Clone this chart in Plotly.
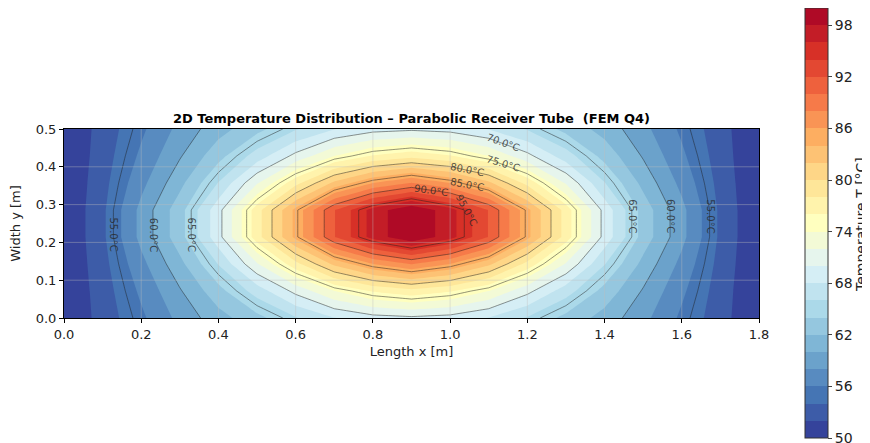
import numpy as np
import plotly.graph_objects as go

# ---------------- data (node temperatures of the Q4 mesh) ----------------
x_nodes = [0.0, 0.1, 0.2, 0.3, 0.4, 0.5, 0.6, 0.7, 0.8, 0.9,
           1.0, 1.1, 1.2, 1.3, 1.4, 1.5, 1.6, 1.7, 1.8]
y_nodes = [0.0, 0.0714, 0.1429, 0.2143, 0.2857, 0.3571, 0.4286, 0.5]

row_edge = [50.0, 52.8, 55.6, 58.6, 61.2, 63.4, 65.8, 67.9, 69.2, 69.6,
            69.2, 67.9, 65.8, 63.4, 61.2, 58.6, 55.6, 52.8, 50.0]
row_outer = [50.0, 53.0, 56.4, 59.8, 63.3, 66.9, 70.6, 74.0, 76.2, 77.3,
             76.2, 74.0, 70.6, 66.9, 63.3, 59.8, 56.4, 53.0, 50.0]
row_inner = [50.0, 53.3, 57.4, 61.4, 66.1, 71.8, 77.3, 82.5, 86.0, 88.1,
             86.0, 82.5, 77.3, 71.8, 66.1, 61.4, 57.4, 53.3, 50.0]
row_center = [50.0, 53.6, 58.6, 63.2, 69.3, 77.1, 84.6, 91.9, 96.8, 99.9,
              96.8, 91.9, 84.6, 77.1, 69.3, 63.2, 58.6, 53.6, 50.0]

T_field = [row_edge, row_outer, row_inner, row_center,
           row_center, row_inner, row_outer, row_edge]

fill_levels = [50.0, 100.0, 2.0]       # start, end, step
line_levels = [55, 60, 65, 70, 75, 80, 85, 90, 95]
cbar_ticks = [50, 56, 62, 68, 74, 80, 86, 92, 98]
x_ticks = [0.0, 0.2, 0.4, 0.6, 0.8, 1.0, 1.2, 1.4, 1.6, 1.8]
y_ticks = [0.0, 0.1, 0.2, 0.3, 0.4, 0.5]

# label placement: (level, side/column, text angle)
side_labels = [(55, "L"), (60, "L"), (65, "L"), (65, "R"), (60, "R"), (55, "R")]
top_labels = [(70, 1.137, 20), (75, 1.137, 17), (80, 1.044, 11),
              (85, 1.044, 11), (90, 0.951, 8), (95, 1.044, 62)]

# ---------------- colours (matplotlib RdYlBu_r) ----------------
rdylbu_r = ['#313695', '#4575b4', '#74add1', '#abd9e9', '#e0f3f8', '#ffffbf',
            '#fee090', '#fdae61', '#f46d43', '#d73027', '#a50026']


def hex2rgb(h):
    h = h.lstrip('#')
    return np.array([int(h[i:i + 2], 16) for i in (0, 2, 4)], dtype=float)


anchors = np.array([hex2rgb(c) for c in rdylbu_r])
apos = np.linspace(0, 1, len(anchors))


def cmap(f):
    return 'rgb(%d,%d,%d)' % tuple(
        int(round(np.interp(f, apos, anchors[:, i]))) for i in range(3))


start, end, step = fill_levels
nb = int(round((end - start) / step))
band_cols = [cmap((k + 0.5) / nb) for k in range(nb)]

# colorscale for the contour fill: plotly maps [0,1] onto [start-step/2, end+step/2]
lo, hi = start - step / 2, end + step / 2
cs_fill = []
for k, c in enumerate(band_cols):
    a = (start + k * step - lo) / (hi - lo) if k > 0 else 0.0
    b = (start + (k + 1) * step - lo) / (hi - lo) if k < nb - 1 else 1.0
    cs_fill.append([a, c])
    cs_fill.append([b, c])

# colorscale for the stand-alone colourbar spanning exactly [start, end]
cs_bar = []
for k, c in enumerate(band_cols):
    cs_bar.append([k / nb, c])
    cs_bar.append([(k + 1) / nb, c])

FONT = "DejaVu Sans"

# page is shown with an 8px body margin -> layout in figure pixels
W, H = 870, 443
L, T, PW, PH = 56, 121, 695, 189

fig = go.Figure()
fig.add_trace(go.Contour(
    x=x_nodes, y=y_nodes, z=T_field,
    colorscale=cs_fill,
    autocontour=False,
    contours=dict(start=start, end=end, size=step, coloring="fill", showlines=False),
    line=dict(width=0, smoothing=0),
    showscale=False,
    hoverinfo="skip",
))

fig.add_trace(go.Contour(
    x=x_nodes, y=y_nodes, z=T_field,
    autocontour=False,
    contours=dict(start=line_levels[0], end=line_levels[-1],
                  size=line_levels[1] - line_levels[0], coloring="none"),
    line=dict(width=0.8, color="rgba(30,30,30,0.6)", smoothing=0),
    showscale=False, hoverinfo="skip",
))

# colourbar carrier
fig.add_trace(go.Scatter(
    x=[None], y=[None], mode="markers",
    marker=dict(color=[start], colorscale=cs_bar, cmin=start, cmax=end, showscale=True,
                colorbar=dict(
                    tickvals=cbar_ticks, ticks="outside", ticklen=4, tickwidth=1,
                    tickfont=dict(family=FONT, size=14, color="#222"),
                    thickness=23, len=430, lenmode="pixels",
                    x=(797 - L) / PW, xanchor="left", xpad=0,
                    y=(T + PH - 215) / PH, yanchor="middle", ypad=0,
                    outlinewidth=1, outlinecolor="#333",
                )),
    hoverinfo="skip", showlegend=False,
))

# ---------------- contour labels ----------------
Z = np.array(T_field)
xa = np.array(x_nodes)
ya = np.array(y_nodes)
center = Z[3]
imax = int(np.argmax(center))

LBL_FONT = dict(family=FONT, size=10, color="rgba(40,40,40,0.8)")
annotations = []
for lev, side in side_labels:
    if side == "L":
        xc = np.interp(lev, center[:imax + 1], xa[:imax + 1])
        yc = 0.22
    else:
        xc = np.interp(lev, center[imax:][::-1], xa[imax:][::-1])
        yc = 0.27
    annotations.append(dict(x=xc, y=yc, text=f"{lev:.1f}°C", showarrow=False,
                            textangle=90, font=LBL_FONT))

for lev, xq, ang in top_labels:
    col = np.array([np.interp(xq, xa, r) for r in Z])
    up_vals = col[4:][::-1]
    up_y = ya[4:][::-1]
    yc = np.interp(lev, up_vals, up_y)
    annotations.append(dict(x=xq, y=yc, text=f"{lev:.1f}°C", showarrow=False,
                            textangle=ang, font=LBL_FONT))

# colourbar title
annotations.append(dict(x=(853 - L) / PW, xref="paper", y=(T + PH - 217) / PH, yref="paper",
                        text="Temperature T [°C]", textangle=-90, showarrow=False,
                        xanchor="center", yanchor="middle",
                        font=dict(family=FONT, size=14, color="#222")))

# grid lines drawn on top of the filled contours
shapes = []
for xv in x_ticks[1:-1]:
    shapes.append(dict(type="line", xref="x", yref="y", x0=xv, x1=xv, y0=y_ticks[0], y1=y_ticks[-1],
                       line=dict(color="rgba(190,190,190,0.5)", width=0.8), layer="above"))
for yv in y_ticks[1:-1]:
    shapes.append(dict(type="line", xref="x", yref="y", x0=x_ticks[0], x1=x_ticks[-1], y0=yv, y1=yv,
                       line=dict(color="rgba(190,190,190,0.5)", width=0.8), layer="above"))

axis_common = dict(showline=True, mirror=True, linecolor="black", linewidth=1,
                   ticks="outside", ticklen=4, tickwidth=1, tickcolor="black",
                   showgrid=False, zeroline=False, tickformat=".1f",
                   tickfont=dict(family=FONT, size=13, color="#222"))

fig.update_layout(
    width=W, height=H,
    margin=dict(l=L, r=W - L - PW, t=T, b=H - T - PH, autoexpand=False),
    paper_bgcolor="white", plot_bgcolor="white",
    font=dict(family=FONT, size=13, color="#222"),
    title=dict(text="<b>2D Temperature Distribution – Parabolic Receiver Tube  (FEM Q4)</b>",
               x=0.5, xref="paper", xanchor="center",
               y=1 - 110 / H, yref="container", yanchor="middle",
               font=dict(family=FONT, size=13, color="black")),
    xaxis=dict(range=[x_ticks[0], x_ticks[-1]], tickvals=x_ticks,
               title=dict(text="Length x [m]", font=dict(family=FONT, size=13), standoff=6),
               **axis_common),
    yaxis=dict(range=[y_ticks[0], y_ticks[-1]], tickvals=y_ticks,
               title=dict(text="Width y [m]", font=dict(family=FONT, size=13), standoff=12),
               **axis_common),
    annotations=annotations,
    shapes=shapes,
    showlegend=False,
)

fig.write_html("out.html")
